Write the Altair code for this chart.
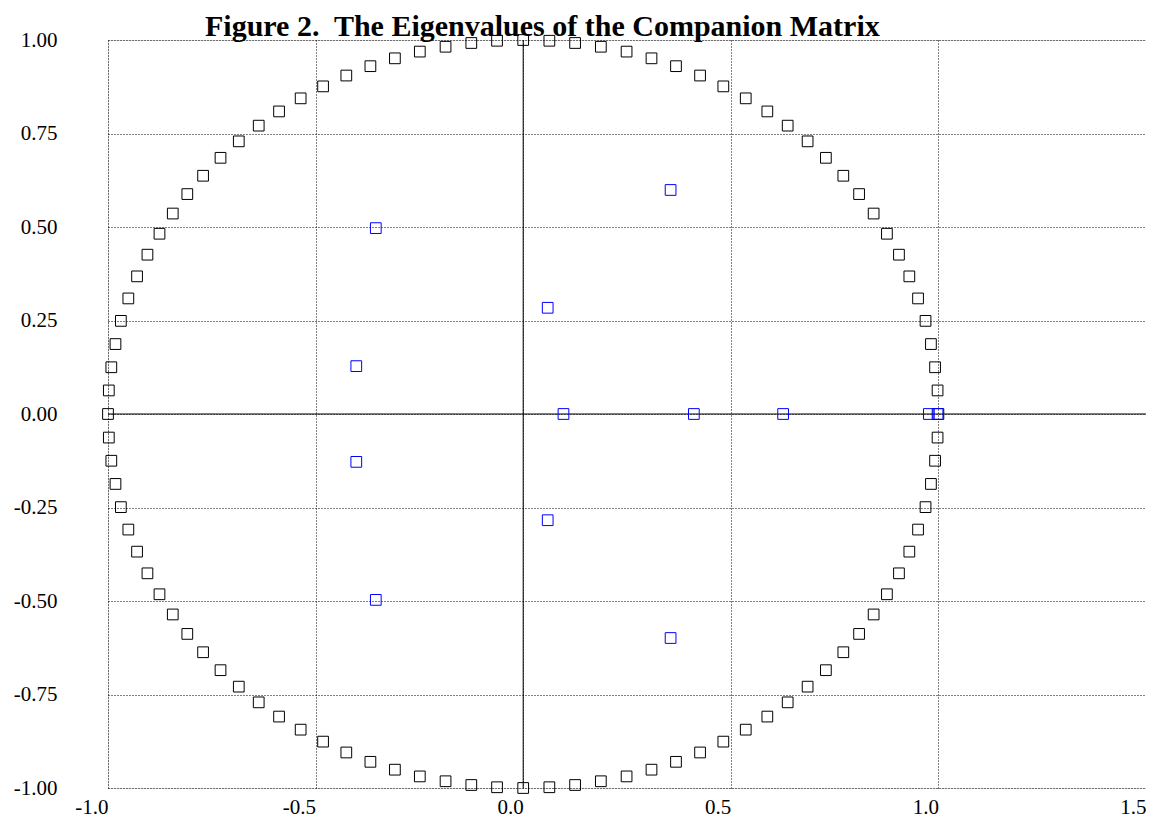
import altair as alt
import pandas as pd

# Unit-circle reference points (black squares)
circle_x = [1.000, 0.998, 0.992, 0.982, 0.969, 0.951, 0.930, 0.905, 0.876, 0.844,
            0.809, 0.771, 0.729, 0.685, 0.637, 0.588, 0.536, 0.482, 0.426, 0.368,
            0.309, 0.249, 0.187, 0.125, 0.063, 0.000, -0.063, -0.125, -0.187, -0.249,
            -0.309, -0.368, -0.426, -0.482, -0.536, -0.588, -0.637, -0.685, -0.729, -0.771,
            -0.809, -0.844, -0.876, -0.905, -0.930, -0.951, -0.969, -0.982, -0.992, -0.998,
            -1.000, -0.998, -0.992, -0.982, -0.969, -0.951, -0.930, -0.905, -0.876, -0.844,
            -0.809, -0.771, -0.729, -0.685, -0.637, -0.588, -0.536, -0.482, -0.426, -0.368,
            -0.309, -0.249, -0.187, -0.125, -0.063, 0.000, 0.063, 0.125, 0.187, 0.249,
            0.309, 0.368, 0.426, 0.482, 0.536, 0.588, 0.637, 0.685, 0.729, 0.771,
            0.809, 0.844, 0.876, 0.905, 0.930, 0.951, 0.969, 0.982, 0.992, 0.998]
circle_y = [0.000, 0.063, 0.125, 0.187, 0.249, 0.309, 0.368, 0.426, 0.482, 0.536,
            0.588, 0.637, 0.685, 0.729, 0.771, 0.809, 0.844, 0.876, 0.905, 0.930,
            0.951, 0.969, 0.982, 0.992, 0.998, 1.000, 0.998, 0.992, 0.982, 0.969,
            0.951, 0.930, 0.905, 0.876, 0.844, 0.809, 0.771, 0.729, 0.685, 0.637,
            0.588, 0.536, 0.482, 0.426, 0.368, 0.309, 0.249, 0.187, 0.125, 0.063,
            0.000, -0.063, -0.125, -0.187, -0.249, -0.309, -0.368, -0.426, -0.482, -0.536,
            -0.588, -0.637, -0.685, -0.729, -0.771, -0.809, -0.844, -0.876, -0.905, -0.930,
            -0.951, -0.969, -0.982, -0.992, -0.998, -1.000, -0.998, -0.992, -0.982, -0.969,
            -0.951, -0.930, -0.905, -0.876, -0.844, -0.809, -0.771, -0.729, -0.685, -0.637,
            -0.588, -0.536, -0.482, -0.426, -0.368, -0.309, -0.249, -0.187, -0.125, -0.063]

# Eigenvalues of the companion matrix (blue squares)
eig_x = [-0.355, -0.355, -0.402, -0.402, 0.059, 0.059, 0.097, 0.355, 0.355, 0.411, 0.626, 0.977, 0.998]
eig_y = [0.497, -0.497, 0.128, -0.128, 0.284, -0.284, 0.000, 0.599, -0.599, 0.000, 0.000, 0.000, 0.000]

x_ticks = [-1.0, -0.5, 0.0, 0.5, 1.0, 1.5]
y_ticks = [-1.0, -0.75, -0.5, -0.25, 0.0, 0.25, 0.5, 0.75, 1.0]

title_text = ["Figure 2.\u00a0 The Eigenvalues of the Companion Matrix"]

circle_df = pd.DataFrame({"x": circle_x, "y": circle_y})
eig_df = pd.DataFrame({"x": eig_x, "y": eig_y})
title_df = pd.DataFrame({"t": title_text})

FONT = "Liberation Serif"

xscale = alt.Scale(domain=[-1.0, 1.5], nice=False, zero=False)
yscale = alt.Scale(domain=[-1.0, 1.0], nice=False, zero=False)

xaxis = alt.Axis(values=x_ticks, title=None, grid=True, gridColor="#000", gridDash=[1, 2],
                 gridWidth=1, ticks=False, tickSize=0, domain=False,
                 labelExpr="(datum.value < 0 ? '-' : '') + format(abs(datum.value), '.1f')",
                 labelAlign="right", labelBaseline="top", labelPadding=8,
                 labelFont=FONT, labelFontSize=21, labelColor="#000", labelFlush=False)
yaxis = alt.Axis(values=y_ticks, title=None, grid=True, gridColor="#000", gridDash=[1, 2],
                 gridWidth=1, ticks=False, tickSize=0, domain=False,
                 labelExpr="(datum.value < 0 ? '-' : '') + format(abs(datum.value), '.2f')",
                 labelAlign="right", labelBaseline="middle", labelPadding=51,
                 labelFont=FONT, labelFontSize=21, labelColor="#000", labelFlush=False)

circle_pts = alt.Chart(circle_df).mark_point(shape="square", filled=False, size=115, color="#000",
                                             strokeWidth=1, opacity=1).encode(
    x=alt.X("x:Q", scale=xscale, axis=xaxis),
    y=alt.Y("y:Q", scale=yscale, axis=yaxis),
)

vline = alt.Chart(pd.DataFrame({"x": [0.0]})).mark_rule(color="#000", strokeWidth=1).encode(
    x=alt.X("x:Q", scale=xscale))
hline = alt.Chart(pd.DataFrame({"y": [0.0]})).mark_rule(color="#000", strokeWidth=1).encode(
    y=alt.Y("y:Q", scale=yscale))

eig_pts = alt.Chart(eig_df).mark_point(shape="square", filled=False, size=115, color="#0000ff",
                                       strokeWidth=1, opacity=1).encode(
    x=alt.X("x:Q", scale=xscale),
    y=alt.Y("y:Q", scale=yscale),
)

title_mark = alt.Chart(title_df).mark_text(
    font=FONT, fontSize=30, fontWeight="bold", color="#000",
    align="left", baseline="alphabetic",
).encode(text="t:N", x=alt.value(97), y=alt.value(-4.5))

chart = alt.layer(vline, hline, circle_pts, eig_pts, title_mark).properties(
    width=1038,
    height=748,
    autosize=alt.AutoSizeParams(type="none"),
    padding={"left": 100, "top": 32, "right": 0, "bottom": 30},
).configure_view(stroke="#000", strokeWidth=1).configure(background="#ffffff")

chart.save("out.html", embed_options={"renderer": "svg", "actions": False})
